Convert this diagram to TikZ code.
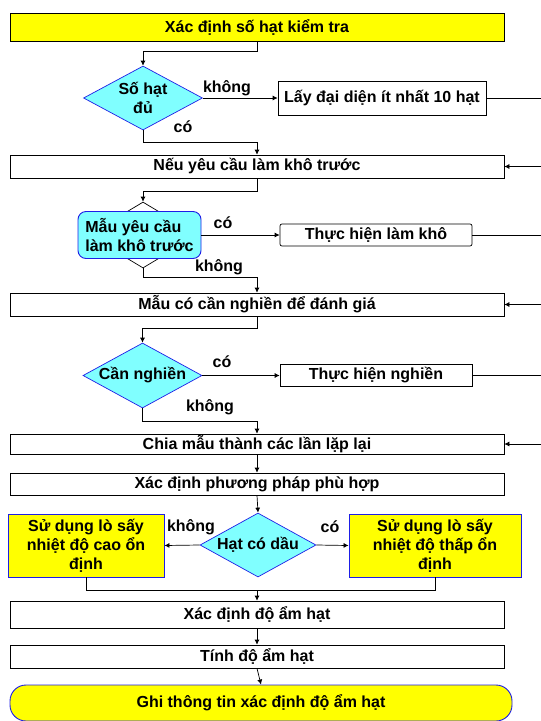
\documentclass[tikz,border=0pt]{standalone}
\usepackage{fontspec}
\setmainfont{Liberation Sans}
\usetikzlibrary{shapes.geometric,arrows.meta}
\definecolor{xanhnhat}{RGB}{128,255,255}
\definecolor{xanhvien}{RGB}{30,30,230}
\definecolor{vangdam}{RGB}{255,255,0}
\begin{document}
\begin{tikzpicture}[x=1pt,y=-1pt,font=\fontsize{16}{19}\selectfont\bfseries,
        khoi/.style={draw,line width=0.7pt,inner sep=0pt,minimum width=494pt},
        thoi/.style={draw,line width=0.7pt,inner sep=0pt,minimum width=192pt,minimum height=22pt},
        hoi/.style={diamond,draw=xanhvien,fill=xanhnhat,line width=0.7pt,inner sep=0pt,shape aspect=1.8,align=center},
        vang/.style={draw=xanhvien,fill=vangdam,line width=0.9pt,inner sep=0pt,align=center},
        mui/.style={-{Latex[length=5pt,width=5pt]},line width=0.7pt},
        day/.style={line width=0.7pt},
        nhan/.style={inner sep=0pt}]
            \useasboundingbox (0,0) rectangle (541,721);
            \clip (0,0) rectangle (541,721);

            \node[khoi,fill=vangdam,minimum height=28pt] (xdsh) at (257,27) {Xác định số hạt kiểm tra};
            \node[hoi,minimum width=119pt,minimum height=64pt] (shd) at (143,98) {Số hạt\\đủ};
            \node[thoi,minimum width=208pt,minimum height=34pt] (ldd) at (382,98) {Lấy đại diện ít nhất 10 hạt};
            \node[khoi,minimum height=23pt] (nyc) at (257,166.5) {Nếu yêu cầu làm khô trước};
            \node[diamond,draw,fill=white,line width=0.7pt,inner sep=0pt,minimum width=110pt,minimum height=66pt] (myc) at (143,235) {};
            \node[draw=xanhvien,fill=xanhnhat,line width=0.9pt,rounded corners=8pt,inner sep=0pt,minimum width=123pt,minimum height=47pt,align=left] (mkt) at (139.5,235) {Mẫu yêu cầu\\làm khô trước};
            \node[thoi,rounded corners=2pt] (thlk) at (376,235) {Thực hiện làm khô};
            \node[khoi,minimum height=23pt] (mcn) at (257,304.5) {Mẫu có cần nghiền để đánh giá};
            \node[hoi,minimum width=119pt,minimum height=65pt] (cn) at (142.5,375.5) {Cần nghiền};
            \node[thoi] (thn) at (376,375.5) {Thực hiện nghiền};
            \node[khoi,minimum height=20pt] (chia) at (257,444) {Chia mẫu thành các lần lặp lại};
            \node[khoi,minimum height=22pt] (xdpp) at (257,484) {Xác định phương pháp phù hợp};
            \node[hoi,minimum width=116pt,minimum height=64pt] (hcd) at (258,545) {Hạt có dầu};
            \node[vang,minimum width=156pt,minimum height=63pt] (cao) at (86,545.5) {Sử dụng lò sấy\\nhiệt độ cao ổn\\định};
            \node[vang,minimum width=172pt,minimum height=63pt] (thap) at (435,545.5) {Sử dụng lò sấy\\nhiệt độ thấp ổn\\định};
            \node[khoi,minimum height=27pt] (xdda) at (257,614.5) {Xác định độ ẩm hạt};
            \node[khoi,minimum height=23pt] (tinh) at (257,656.5) {Tính độ ẩm hạt};
            \node[vang,rounded corners=16pt,minimum width=502pt,minimum height=36pt] (ghi) at (261,703) {Ghi thông tin xác định độ ẩm hạt};

            \node[nhan] (k1) at (227,88) {không};
            \node[nhan] (c1) at (183,127) {có};
            \node[nhan] (c2) at (223,223) {có};
            \node[nhan] (k2) at (219,267) {không};
            \node[nhan] (c3) at (222,362) {có};
            \node[nhan] (k3) at (210,407) {không};
            \node[nhan] (k4) at (191,527) {không};
            \node[nhan] (c4) at (330,527) {có};

            \draw[mui] (xdsh.south) -- ++(0,10) -| (shd.north);
            \draw[mui] (shd.east) -- (ldd.west);
            \draw[mui] (shd.south) -- ++(0,12) -| (nyc.north);
            \draw[mui] (ldd.east) -- ++(62,0) |- (nyc.east);
            \draw[mui] (nyc.south) -- ++(0,13) -| (myc.north);
            \draw[mui] (mkt.east) -- (thlk.west);
            \draw[mui] (myc.south) -- ++(0,9) -| (mcn.north);
            \draw[mui] (thlk.east) -- ++(72,0) |- (mcn.east);
            \draw[mui] (mcn.south) -- ++(0,12) -| (cn.north);
            \draw[mui] (cn.east) -- (thn.west);
            \draw[mui] (cn.south) -- ++(0,13) -| (chia.north);
            \draw[mui] (thn.east) -- ++(72,0) |- (chia.east);
            \draw[mui] (chia.south) -- (xdpp.north);
            \draw[mui] (xdpp.south) -- (hcd.north);
            \draw[mui] (hcd.west) -- (cao.east);
            \draw[mui] (hcd.east) -- (thap.west);
            \draw[day] (cao.south) -- ++(0,13) coordinate (gop) -| (thap.south);
            \draw[mui] (gop -| xdda.north) -- (xdda.north);
            \draw[mui] (xdda.south) -- (tinh.north);
            \draw[mui] (tinh.south) -- (ghi.north);
        \end{tikzpicture}
\end{document}
